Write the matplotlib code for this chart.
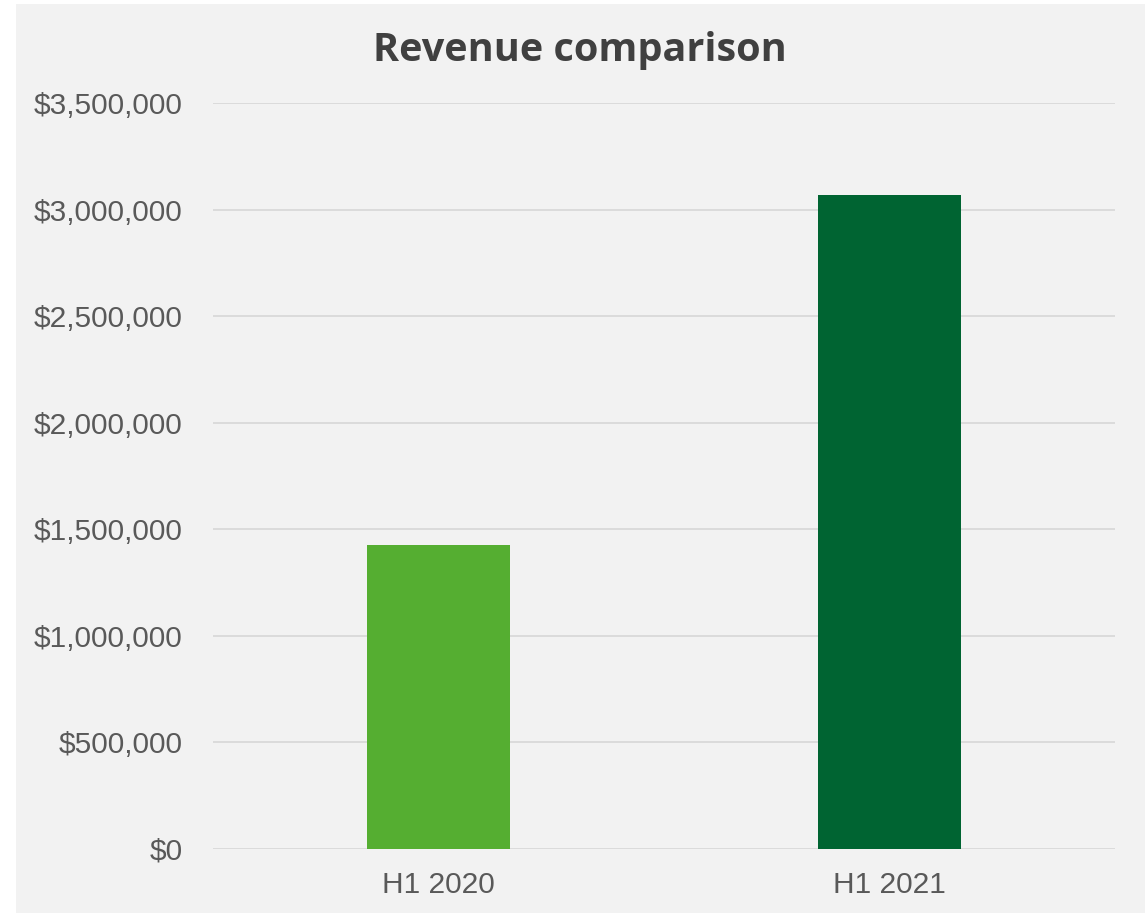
import matplotlib
matplotlib.use('Agg')
import matplotlib.pyplot as plt
from matplotlib.patches import Rectangle
from matplotlib.ticker import FuncFormatter, MultipleLocator

categories = ['H1 2020', 'H1 2021']
revenue = [1426000, 3068000]
bar_colors = ['#55AE31', '#006432']

fig = plt.figure(figsize=(11.45, 9.13), dpi=100, facecolor='white')
# grey chart area, a thin white margin left and top
fig.patches.append(Rectangle((16 / 1145, 0), 1, 1 - 4 / 913, transform=fig.transFigure,
                             facecolor='#f2f2f2', edgecolor='none', zorder=-5))

ax = fig.add_axes([213 / 1145, 1 - 849 / 913, 902 / 1145, (849 - 103) / 913])
ax.set_facecolor('#f2f2f2')

x = range(len(categories))
ax.bar(x, revenue, width=0.316, color=bar_colors, zorder=3)

ax.set_xlim(-0.5, 1.5)
ax.set_ylim(0, 3500000)
ax.yaxis.set_major_locator(MultipleLocator(500000))
ax.yaxis.set_major_formatter(FuncFormatter(lambda v, p: '${:,.0f}'.format(v)))
ax.set_xticks(list(x))
ax.set_xticklabels(categories)

ax.grid(axis='y', color='#d9d9d9', linewidth=1.3, zorder=0)
for s in ax.spines.values():
    s.set_visible(False)
ax.tick_params(axis='y', length=0, pad=22, labelsize=21.5, labelcolor='#595959')
ax.tick_params(axis='x', length=0, pad=15.5, labelsize=21.5, labelcolor='#595959')
for lab in ax.get_xticklabels() + ax.get_yticklabels():
    lab.set_fontfamily('Liberation Sans')

fig.text(580 / 1145, 1 - 50 / 913, 'Revenue comparison', ha='center', va='center',
         fontsize=28.5, fontweight='bold', color='#404040', family='Open Sans')

fig.savefig('out.png', dpi=100, facecolor=fig.get_facecolor())
